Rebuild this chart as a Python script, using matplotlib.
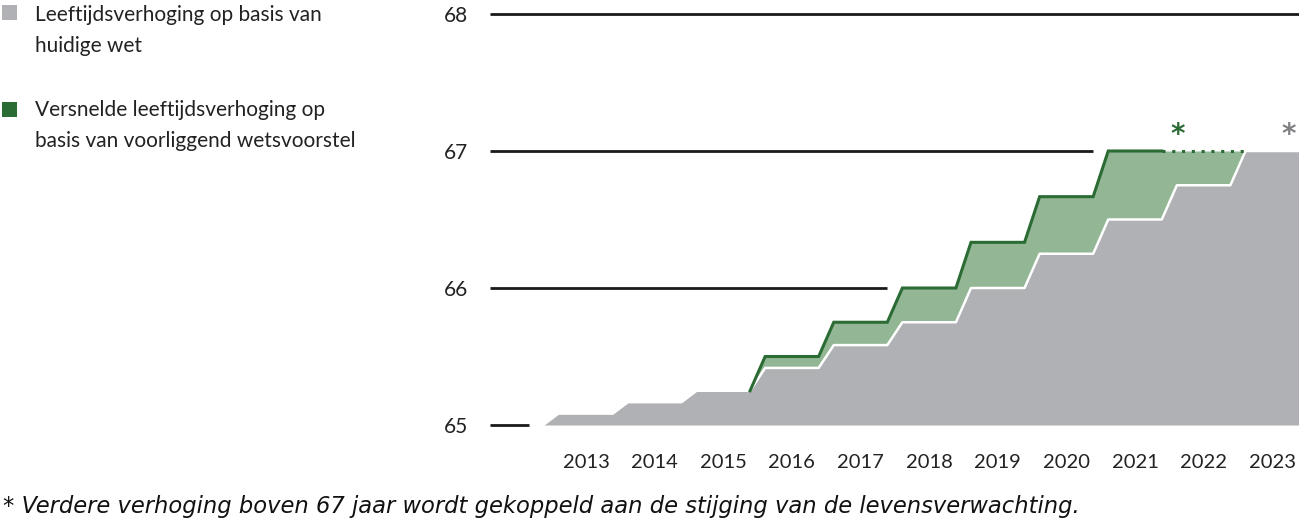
import numpy as np
import matplotlib.pyplot as plt
from matplotlib.patches import Rectangle

# AOW-leeftijd per jaar (in jaren)
jaren = [2012, 2013, 2014, 2015, 2016, 2017, 2018, 2019, 2020, 2021, 2022, 2023]
huidige_wet = [65, 65 + 1/12, 65 + 2/12, 65 + 3/12, 65 + 5/12, 65 + 7/12,
               65 + 9/12, 66, 66.25, 66.5, 66.75, 67]
wetsvoorstel = [65, 65 + 1/12, 65 + 2/12, 65 + 3/12, 65.5, 65.75,
                66, 66 + 4/12, 66 + 8/12, 67, 67, 67]
jaar_labels = [str(j) for j in range(2013, 2024)]
y_ticks = [65, 66, 67, 68]

GRIJS = "#b0b1b4"
GROEN_VLAK = "#93b694"
GROEN_LIJN = "#2b6b34"
ZWART = "#1a1a1a"

W, H = 1299, 523
F = 0.39  # halve breedte van een trede


def trap(jr, waarden):
    xs, ys = [], []
    for j, v in zip(jr, waarden):
        xs += [j - F, j + F]
        ys += [v, v]
    return np.array(xs), np.array(ys)


def fx(px):
    return px / W


def fy(py):
    return 1 - py / H


fig = plt.figure(figsize=(W / 100, H / 100), dpi=100)
ax = fig.add_axes([fx(490), fy(430), fx(1299) - fx(490), fy(10) - fy(430)])

x_g, y_g = trap(jaren, huidige_wet)
x_v, y_v = trap(jaren, wetsvoorstel)

# grijs vlak
ax.fill_between(x_g, 65, y_g, color=GRIJS, lw=0, zorder=2)
# groen vlak tussen beide reeksen
i0 = jaren.index(2015)
ax.fill_between(x_v[2 * i0 + 1:], y_g[2 * i0 + 1:], y_v[2 * i0 + 1:],
                color=GROEN_VLAK, lw=0, zorder=3)
# witte rand van het grijze vlak
ax.plot(x_g[2:], y_g[2:], color="white", lw=1.8, zorder=4)

# groene lijn (doorgetrokken t/m 2021, daarna gestippeld)
i1 = jaren.index(2021)
ax.plot(x_v[2 * i0 + 1:2 * i1 + 2], y_v[2 * i0 + 1:2 * i1 + 2],
        color=GROEN_LIJN, lw=2.2, zorder=5, solid_joinstyle="miter")
ax.plot([jaren[i1] + F, jaren[i1 + 1] + 1 - F], [wetsvoorstel[i1]] * 2,
        color=GROEN_LIJN, lw=2.2, ls=(0, (1, 2.2)), zorder=5)

# hulplijnen
ax.hlines(68, 2011.6, 2023.39, color=ZWART, lw=2, zorder=1)
ax.hlines(67, 2011.6, 2020 + F, color=ZWART, lw=2, zorder=1)
ax.hlines(66, 2011.6, 2017 + F, color=ZWART, lw=2, zorder=1)
ax.hlines(65, 2011.6, 2012.17, color=ZWART, lw=2, zorder=1)

# sterretjes
ax.text(2021.62, 67.12, "*", color=GROEN_LIJN, fontsize=20, fontweight="bold",
        ha="center", va="center", family="DejaVu Sans")
ax.text(2023.24, 67.12, "*", color="#808184", fontsize=20, fontweight="bold",
        ha="center", va="center", family="DejaVu Sans")

ax.set_xlim(2011.6, 2023.39)
ax.set_ylim(65 - 5 / 137, 68 + 4 / 137)
ax.set_xticks(range(2013, 2024))
ax.set_xticklabels(jaar_labels, family="Lato", fontsize=14.5, color="#222222")
ax.set_yticks(y_ticks)
ax.set_yticklabels([str(t) for t in y_ticks], family="Lato", fontsize=15,
                   color="#222222")
ax.tick_params(axis="x", length=0, pad=17)
ax.tick_params(axis="y", length=0, pad=15.5)
for s in ax.spines.values():
    s.set_visible(False)

# legenda
fig.add_artist(Rectangle((fx(2), fy(20)), fx(15), fy(5) - fy(20),
                         transform=fig.transFigure, color=GRIJS, lw=0))
fig.add_artist(Rectangle((fx(2), fy(117)), fx(15), fy(102) - fy(117),
                         transform=fig.transFigure, color=GROEN_LIJN, lw=0))
legenda = [(21, "Leeftijdsverhoging op basis van"), (52, "huidige wet"),
           (116, "Versnelde leeftijdsverhoging op"),
           (147, "basis van voorliggend wetsvoorstel")]
for py, tekst in legenda:
    fig.text(fx(35), fy(py), tekst, family="Lato", fontsize=15,
             color="#222222", va="baseline", ha="left")

# voetnoot
fig.text(fx(3), fy(513),
         "* Verdere verhoging boven 67 jaar wordt gekoppeld aan de stijging van de levensverwachting.",
         family="DejaVu Sans", style="italic", fontsize=16.3, color="#111111",
         va="baseline", ha="left")

fig.savefig("out.png", dpi=100)
